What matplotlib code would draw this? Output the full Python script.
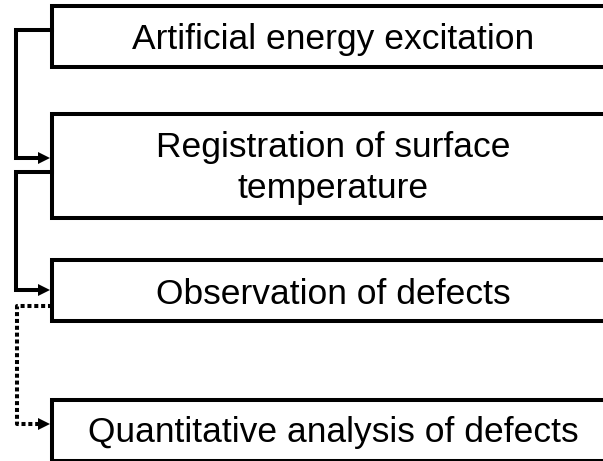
import matplotlib
matplotlib.use("Agg")
import matplotlib.pyplot as plt
from matplotlib.patches import Polygon

plt.rcParams['font.family'] = ['Liberation Sans', 'DejaVu Sans']

# box labels (one entry per line)
labels = [["Artificial energy excitation"],
          ["Registration of surface", "temperature"],
          ["Observation of defects"],
          ["Quantitative analysis of defects"]]

# layout in pixel units (figure is 603 x 461)
box_left = 52
box_right = 640
box_top = [6, 114, 260, 400]
box_bottom = [67, 218, 321, 460.5]
text_x = 333
text_baselines = [[49], [157, 198], [304], [442]]

# connectors: (y start, y end, x of vertical, dotted?)
links = [(30, 158, 16, False),
         (172, 290, 16, False),
         (306, 424, 17, True)]

lw = 2.9
fig = plt.figure(figsize=(6.03, 4.61), dpi=100)
ax = fig.add_axes([0, 0, 1, 1])
ax.set_xlim(0, 603)
ax.set_ylim(461, 0)
ax.axis('off')

for top, bot, lines, bases in zip(box_top, box_bottom, labels, text_baselines):
    ax.plot([box_right, box_left, box_left, box_right], [top, top, bot, bot],
            color='black', lw=lw, solid_joinstyle='miter', solid_capstyle='projecting')
    for s, yb in zip(lines, bases):
        ax.text(text_x, yb, s, ha='center', va='baseline', fontsize=25.5)

for y0, y1, xv, dotted in links:
    if dotted:
        ax.plot([box_left, xv, xv, 40], [y0, y0, y1, y1], color='black', lw=lw,
                linestyle=(0, (1, 0.7)), dash_capstyle='butt')
    else:
        ax.plot([box_left, xv, xv, 40], [y0, y0, y1, y1], color='black', lw=lw,
                solid_joinstyle='miter')
    ax.add_patch(Polygon([(38, y1 - 6), (50, y1), (38, y1 + 6)], closed=True,
                         color='black', lw=0))

fig.savefig("out.png", dpi=100)
